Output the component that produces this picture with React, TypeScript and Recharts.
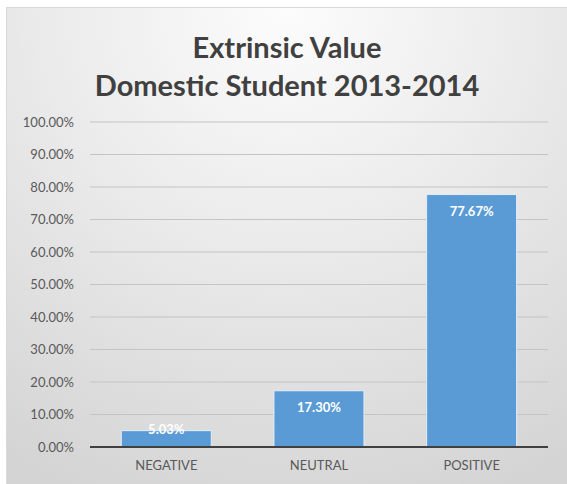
import { BarChart, Bar, XAxis, YAxis, CartesianGrid, LabelList } from "recharts";

const categories = ["NEGATIVE", "NEUTRAL", "POSITIVE"];
const shares = [5.03, 17.3, 77.67];
const yTicks = [0, 10, 20, 30, 40, 50, 60, 70, 80, 90, 100];
const titleLines = ["Extrinsic Value", "Domestic Student 2013-2014"];

const data = categories.map((name, i) => ({ name, value: shares[i] }));

const FONT = "Lato, 'Open Sans', sans-serif";

// Excel-style "inside end" label; short bars push it up over the top edge
function ValueLabel(props: any) {
  const { x, y, width, height, value } = props;
  const cy = height > 30 ? y + 16 : y - 2;
  return (
    <text
      x={x + width / 2}
      y={cy}
      textAnchor="middle"
      dominantBaseline="central"
      fill="#ffffff"
      fontSize={13}
      fontWeight={700}
      fontFamily={FONT}
    >
      {Number(value).toFixed(2)}%
    </text>
  );
}

export default function App() {
  return (
    <div
      style={{
        position: "absolute",
        left: 6,
        top: 7,
        width: 561,
        height: 477,
        borderTop: "1px solid #d9d9d9",
        borderLeft: "1px solid #d9d9d9",
        boxSizing: "border-box",
        background:
          "radial-gradient(ellipse 95% 110% at 50% 0%, #fcfcfc 0%, #ebebeb 45%, #d4d4d4 100%)",
        fontFamily: FONT,
      }}
    >
      {titleLines.map((line, i) => (
        <div
          key={i}
          style={{
            position: "absolute",
            left: 0,
            right: 0,
            top: 39 + i * 38 - 16,
            height: 32,
            lineHeight: "32px",
            textAlign: "center",
            fontSize: 29,
            fontWeight: 700,
            color: "#404040",
          }}
        >
          {line}
        </div>
      ))}
      <div style={{ position: "absolute", left: -1, top: -1 }}>
        <BarChart
          width={561}
          height={477}
          data={data}
          margin={{ top: 115, right: 19, bottom: 7, left: 14 }}
          barCategoryGap="20.5%"
        >
          <CartesianGrid vertical={false} stroke="#c4c4c4" />
          <XAxis
            dataKey="name"
            height={30}
            axisLine={{ stroke: "#404040", strokeWidth: 2 }}
            tickLine={false}
            tickSize={6}
            tickMargin={8}
            tick={{ fontSize: 13, fill: "#595959", fontFamily: FONT }}
          />
          <YAxis
            width={70}
            domain={[0, 100]}
            ticks={yTicks}
            interval={0}
            axisLine={false}
            tickLine={false}
            tickSize={6}
            tickMargin={10}
            tickFormatter={(v: number) => `${v.toFixed(2)}%`}
            tick={{ fontSize: 13, fill: "#595959", fontFamily: FONT }}
          />
          <Bar dataKey="value" fill="#5b9bd5" stroke="#e3eef8" strokeWidth={1} isAnimationActive={false}>
            <LabelList dataKey="value" content={ValueLabel} />
          </Bar>
        </BarChart>
      </div>
    </div>
  );
}
